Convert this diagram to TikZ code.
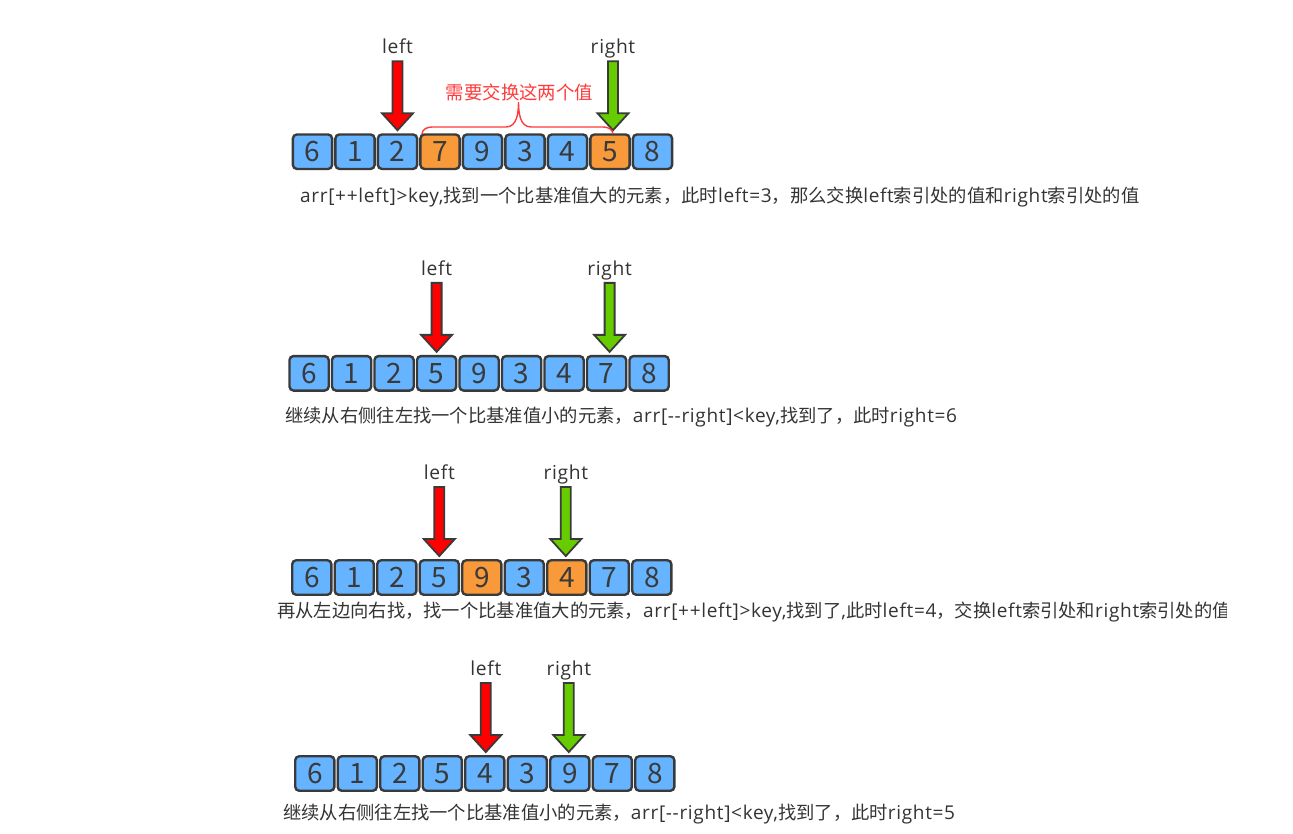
\documentclass[tikz,border=0pt]{standalone}
\usepackage{fontspec}
\setmainfont{Noto Sans CJK SC}
\newfontfamily\lat[Scale=1.04,LetterSpace=3.5]{Open Sans}
\usetikzlibrary{calc}
\definecolor{boxblue}{HTML}{66B3FF}
\definecolor{boxorange}{HTML}{F89A3A}
\definecolor{edge}{HTML}{3A3A3A}
\definecolor{ptrred}{HTML}{FF0000}
\definecolor{ptrgreen}{HTML}{66CC00}
\definecolor{txt}{HTML}{333333}
\definecolor{bracered}{HTML}{FF3B3B}
\newcommand\pointer[5]{%
  \path ([xshift=#3pt,yshift=3pt]#1.north) coordinate (#5tip);
  \draw[ptr,fill=#2] (#5tip) -- ++(-15.5,-17) -- ++(10.5,0) -- ++(0,-52) -- ++(10,0) -- ++(0,52) -- ++(10.5,0) -- cycle;
  \node[plabel] (#5) at ([yshift=76.5pt]#5tip) {#4};
}
\newcommand\cellrow[4]{% #1 prefix, #2 left x, #3 center y, #4 list
  \foreach \v/\s [count=\i from 0] in {#4}
    \node[cell,\s] (#1\i) at (#2+20.8+42.5*\i,#3) {\v};
}
\begin{document}
\begin{tikzpicture}[x=1pt,y=-1pt,
  cell/.style={draw=edge, line width=2.4pt, rounded corners=4pt, fill=boxblue,
    minimum width=39.2pt, minimum height=34.5pt, inner sep=0pt,
    font=\fontsize{28}{28}\selectfont, text=edge},
  hot/.style={fill=boxorange},
  plain/.style={},
  ptr/.style={draw=edge, line width=1.8pt, line join=miter},
  plabel/.style={font=\lat\fontsize{18.5}{18.5}\selectfont, text=txt, anchor=base, inner sep=0pt},
  caption/.style={font=\fontsize{18.3}{18.3}\selectfont, text=txt, anchor=west, inner sep=0pt},
  bracestyle/.style={draw=bracered, line width=1.4pt},
]
\useasboundingbox (0,0) rectangle (1293,833);

% ---- row 1
\cellrow{a}{291.7}{151.7}{6/plain,1/plain,2/plain,7/hot,9/plain,3/plain,4/plain,5/hot,8/plain}
\pointer{a2}{ptrred}{0}{left}{aL}
\pointer{a7}{ptrgreen}{3}{right}{aR}
\coordinate (bA) at (422,134);
\coordinate (bM) at (518.5,102);
\coordinate (bB) at (613,134);
\draw[bracestyle] (bA) to[out=90,in=180] (432,127) -- (506,127) to[out=0,in=-90] (bM)
  to[out=-90,in=180] (531,127) -- (603,127) to[out=0,in=90] (bB);
\node[font=\fontsize{18.4}{18.4}\selectfont, text=bracered, inner sep=0pt] (bt) at (519.5,92) {需要交换这两个值};
\node[caption] (c1) at (300,197) {{\lat arr[++left]>key,}找到一个比基准值大的元素，此时{\lat left=3}，那么交换{\lat left}索引处的值和{\lat right}索引处的值};

% ---- row 2
\cellrow{b}{288.3}{373.3}{6/plain,1/plain,2/plain,5/plain,9/plain,3/plain,4/plain,7/plain,8/plain}
\pointer{b3}{ptrred}{0}{left}{bL}
\pointer{b7}{ptrgreen}{3}{right}{bR}
\node[caption] (c2) at (285,417) {继续从右侧往左找一个比基准值小的元素，{\lat arr[-{}-right]<key,}找到了，此时{\lat right=6}};

% ---- row 3
\cellrow{c}{291}{577.5}{6/plain,1/plain,2/plain,5/plain,9/hot,3/plain,4/hot,7/plain,8/plain}
\pointer{c3}{ptrred}{0}{left}{cL}
\pointer{c6}{ptrgreen}{-1}{right}{cR}
\begin{scope}
  \clip (0,595) rectangle (1226,635);
  \node[caption] (c3t) at (277,612) {再从左边向右找，找一个比基准值大的元素，{\lat arr[++left]>key,}找到了{\lat ,}此时{\lat left=4}，交换{\lat left}索引处和{\lat right}索引处的值};
\end{scope}

% ---- row 4
\cellrow{d}{294}{773.5}{6/plain,1/plain,2/plain,5/plain,4/plain,3/plain,9/plain,7/plain,8/plain}
\pointer{d4}{ptrred}{1}{left}{dL}
\pointer{d6}{ptrgreen}{-1}{right}{dR}
\node[caption] (c4) at (283,814) {继续从右侧往左找一个比基准值小的元素，{\lat arr[-{}-right]<key,}找到了，此时{\lat right=5}};
\end{tikzpicture}
\end{document}
